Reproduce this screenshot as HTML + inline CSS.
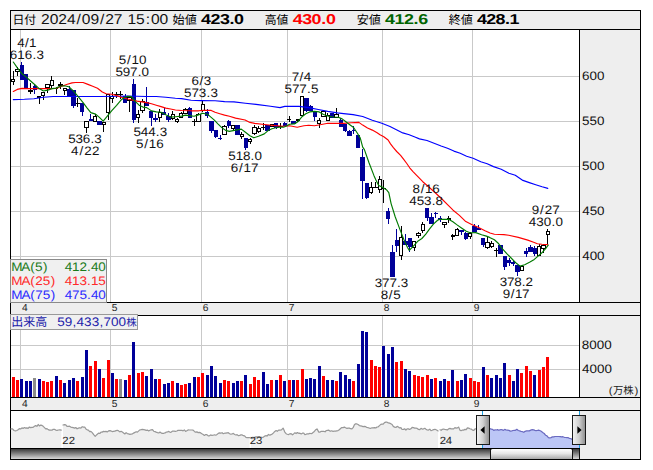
<!DOCTYPE html><html><head><meta charset="utf-8"><title>chart</title><style>html,body{margin:0;padding:0;background:#fff;}body{width:653px;height:470px;overflow:hidden;font-family:"Liberation Sans",sans-serif;}svg{display:block;}svg text{font-family:"Liberation Sans",sans-serif;}</style></head><body><svg width="653" height="470" viewBox="0 0 653 470"  text-rendering="geometricPrecision"><rect x="0" y="0" width="653" height="470" fill="#fff" />
<rect x="10" y="10" width="631" height="450" fill="#000" />
<rect x="11" y="11" width="629" height="18" fill="#eeeeee" />
<rect x="11" y="30" width="568" height="272" fill="#fff" />
<rect x="580" y="30" width="60" height="272" fill="#eeeeee" />
<rect x="11" y="303" width="629" height="12" fill="#eeeeee" />
<rect x="11" y="316" width="568" height="81" fill="#fff" />
<rect x="580" y="316" width="60" height="81" fill="#eeeeee" />
<rect x="11" y="398" width="629" height="12" fill="#eeeeee" />
<rect x="11" y="411" width="629" height="38" fill="#eeeeee" />
<defs><linearGradient id="trk" x1="0" y1="0" x2="0" y2="1"><stop offset="0" stop-color="#3a3a3a"/><stop offset="0.5" stop-color="#888"/><stop offset="1" stop-color="#d8d8d8"/></linearGradient><linearGradient id="thumb" x1="0" y1="0" x2="0" y2="1"><stop offset="0" stop-color="#ffffff"/><stop offset="0.45" stop-color="#e6e6e6"/><stop offset="1" stop-color="#a8a8a8"/></linearGradient><linearGradient id="hnd" x1="0" y1="0" x2="1" y2="0"><stop offset="0" stop-color="#f4f4f4"/><stop offset="0.5" stop-color="#d0d0d0"/><stop offset="1" stop-color="#8c8c8c"/></linearGradient></defs>
<rect x="11" y="449" width="629" height="10" fill="#eeeeee" />
<rect x="11" y="449" width="569" height="10" fill="url(#trk)" />
<rect x="20" y="30" width="1" height="272" fill="#c9c9c9" />
<rect x="20" y="316" width="1" height="81" fill="#c9c9c9" />
<rect x="110" y="30" width="1" height="272" fill="#c9c9c9" />
<rect x="110" y="316" width="1" height="81" fill="#c9c9c9" />
<rect x="201" y="30" width="1" height="272" fill="#c9c9c9" />
<rect x="201" y="316" width="1" height="81" fill="#c9c9c9" />
<rect x="287" y="30" width="1" height="272" fill="#c9c9c9" />
<rect x="287" y="316" width="1" height="81" fill="#c9c9c9" />
<rect x="382" y="30" width="1" height="272" fill="#c9c9c9" />
<rect x="382" y="316" width="1" height="81" fill="#c9c9c9" />
<rect x="472" y="30" width="1" height="272" fill="#c9c9c9" />
<rect x="472" y="316" width="1" height="81" fill="#c9c9c9" />
<rect x="11" y="76" width="568" height="1" fill="#c9c9c9" />
<rect x="11" y="121" width="568" height="1" fill="#c9c9c9" />
<rect x="11" y="166" width="568" height="1" fill="#c9c9c9" />
<rect x="11" y="211" width="568" height="1" fill="#c9c9c9" />
<rect x="11" y="256" width="568" height="1" fill="#c9c9c9" />
<rect x="11" y="345" width="568" height="1" fill="#c9c9c9" />
<rect x="11" y="369" width="568" height="1" fill="#c9c9c9" />
<g shape-rendering="crispEdges">
<rect x="13" y="71" width="1" height="14" fill="#000" />
<rect x="11" y="79" width="4" height="3" fill="#000" />
<rect x="12" y="80" width="2" height="1" fill="#fff" />
<rect x="17" y="67" width="1" height="9" fill="#000" />
<rect x="15" y="69" width="5" height="3" fill="#000" />
<rect x="16" y="70" width="3" height="1" fill="#fff" />
<rect x="21" y="62" width="1" height="18" fill="#000099" />
<rect x="20" y="65" width="4" height="15" fill="#000099" />
<rect x="26" y="74" width="1" height="14" fill="#000099" />
<rect x="24" y="74" width="4" height="14" fill="#000099" />
<rect x="30" y="83" width="1" height="11" fill="#000" />
<rect x="28" y="90" width="5" height="2" fill="#000" />
<rect x="34" y="85" width="1" height="9" fill="#000099" />
<rect x="33" y="86" width="4" height="4" fill="#000099" />
<rect x="39" y="96" width="1" height="8" fill="#000" />
<rect x="37" y="96" width="4" height="2" fill="#000" />
<rect x="43" y="92" width="1" height="8" fill="#000" />
<rect x="41" y="92" width="4" height="4" fill="#000" />
<rect x="42" y="93" width="2" height="2" fill="#fff" />
<rect x="47" y="84" width="1" height="9" fill="#000" />
<rect x="45" y="84" width="5" height="4" fill="#000" />
<rect x="46" y="85" width="3" height="2" fill="#fff" />
<rect x="51" y="76" width="1" height="12" fill="#000" />
<rect x="50" y="80" width="4" height="6" fill="#000" />
<rect x="51" y="81" width="2" height="4" fill="#fff" />
<rect x="56" y="87" width="1" height="7" fill="#000" />
<rect x="54" y="88" width="4" height="1" fill="#000" />
<rect x="60" y="82" width="1" height="7" fill="#000" />
<rect x="58" y="84" width="5" height="2" fill="#000" />
<rect x="64" y="88" width="1" height="7" fill="#000" />
<rect x="63" y="88" width="4" height="3" fill="#000" />
<rect x="64" y="89" width="2" height="1" fill="#fff" />
<rect x="69" y="86" width="1" height="10" fill="#000099" />
<rect x="67" y="89" width="4" height="7" fill="#000099" />
<rect x="73" y="90" width="1" height="18" fill="#000099" />
<rect x="71" y="90" width="5" height="16" fill="#000099" />
<rect x="77" y="98" width="1" height="9" fill="#000" />
<rect x="76" y="103" width="4" height="1" fill="#000" />
<rect x="82" y="103" width="1" height="13" fill="#000099" />
<rect x="80" y="103" width="4" height="9" fill="#000099" />
<rect x="86" y="121" width="1" height="12" fill="#000" />
<rect x="84" y="121" width="5" height="7" fill="#000" />
<rect x="85" y="122" width="3" height="5" fill="#fff" />
<rect x="90" y="114" width="1" height="7" fill="#000099" />
<rect x="89" y="119" width="4" height="2" fill="#000099" />
<rect x="95" y="114" width="1" height="8" fill="#000" />
<rect x="93" y="116" width="4" height="6" fill="#000" />
<rect x="94" y="117" width="2" height="4" fill="#fff" />
<rect x="99" y="121" width="1" height="4" fill="#000099" />
<rect x="97" y="121" width="5" height="4" fill="#000099" />
<rect x="103" y="122" width="1" height="10" fill="#000" />
<rect x="102" y="122" width="4" height="3" fill="#000" />
<rect x="103" y="123" width="2" height="1" fill="#fff" />
<rect x="108" y="94" width="1" height="26" fill="#000" />
<rect x="106" y="94" width="4" height="19" fill="#000" />
<rect x="107" y="95" width="2" height="17" fill="#fff" />
<rect x="112" y="92" width="1" height="11" fill="#000" />
<rect x="110" y="96" width="4" height="3" fill="#000" />
<rect x="111" y="97" width="2" height="1" fill="#fff" />
<rect x="116" y="92" width="1" height="6" fill="#000" />
<rect x="114" y="94" width="5" height="1" fill="#000" />
<rect x="120" y="91" width="1" height="8" fill="#000" />
<rect x="119" y="94" width="4" height="1" fill="#000" />
<rect x="125" y="94" width="1" height="9" fill="#000099" />
<rect x="123" y="96" width="4" height="7" fill="#000099" />
<rect x="129" y="97" width="1" height="15" fill="#000" />
<rect x="127" y="97" width="5" height="4" fill="#000" />
<rect x="128" y="98" width="3" height="2" fill="#fff" />
<rect x="133" y="79" width="1" height="44" fill="#000099" />
<rect x="132" y="84" width="4" height="36" fill="#000099" />
<rect x="138" y="110" width="1" height="13" fill="#000" />
<rect x="136" y="114" width="4" height="4" fill="#000" />
<rect x="137" y="115" width="2" height="2" fill="#fff" />
<rect x="142" y="99" width="1" height="14" fill="#000" />
<rect x="140" y="101" width="5" height="10" fill="#000" />
<rect x="141" y="102" width="3" height="8" fill="#fff" />
<rect x="146" y="87" width="1" height="19" fill="#000099" />
<rect x="145" y="102" width="4" height="4" fill="#000099" />
<rect x="151" y="111" width="1" height="15" fill="#000099" />
<rect x="149" y="111" width="4" height="7" fill="#000099" />
<rect x="155" y="114" width="1" height="8" fill="#000099" />
<rect x="153" y="118" width="5" height="2" fill="#000099" />
<rect x="159" y="109" width="1" height="13" fill="#000" />
<rect x="158" y="112" width="4" height="6" fill="#000" />
<rect x="159" y="113" width="2" height="4" fill="#fff" />
<rect x="164" y="108" width="1" height="7" fill="#000099" />
<rect x="162" y="112" width="4" height="3" fill="#000099" />
<rect x="168" y="113" width="1" height="9" fill="#000099" />
<rect x="166" y="116" width="5" height="4" fill="#000099" />
<rect x="172" y="111" width="1" height="9" fill="#000" />
<rect x="171" y="114" width="4" height="5" fill="#000" />
<rect x="172" y="115" width="2" height="3" fill="#fff" />
<rect x="177" y="118" width="1" height="5" fill="#000" />
<rect x="175" y="119" width="4" height="3" fill="#000" />
<rect x="176" y="120" width="2" height="1" fill="#fff" />
<rect x="181" y="112" width="1" height="5" fill="#000" />
<rect x="179" y="113" width="4" height="5" fill="#000" />
<rect x="180" y="114" width="2" height="3" fill="#fff" />
<rect x="185" y="108" width="1" height="6" fill="#000" />
<rect x="183" y="109" width="5" height="5" fill="#000" />
<rect x="184" y="110" width="3" height="3" fill="#fff" />
<rect x="189" y="107" width="1" height="11" fill="#000099" />
<rect x="188" y="108" width="4" height="10" fill="#000099" />
<rect x="194" y="119" width="1" height="7" fill="#000" />
<rect x="192" y="121" width="4" height="1" fill="#000" />
<rect x="198" y="113" width="1" height="8" fill="#000" />
<rect x="196" y="114" width="5" height="8" fill="#000" />
<rect x="197" y="115" width="3" height="6" fill="#fff" />
<rect x="202" y="101" width="1" height="11" fill="#000" />
<rect x="201" y="104" width="4" height="7" fill="#000" />
<rect x="202" y="105" width="2" height="5" fill="#fff" />
<rect x="207" y="109" width="1" height="9" fill="#000099" />
<rect x="205" y="112" width="4" height="4" fill="#000099" />
<rect x="211" y="121" width="1" height="12" fill="#000099" />
<rect x="209" y="121" width="5" height="10" fill="#000099" />
<rect x="215" y="130" width="1" height="8" fill="#000099" />
<rect x="214" y="130" width="4" height="7" fill="#000099" />
<rect x="220" y="135" width="1" height="5" fill="#000099" />
<rect x="218" y="138" width="4" height="1" fill="#000099" />
<rect x="224" y="125" width="1" height="10" fill="#000" />
<rect x="222" y="126" width="5" height="9" fill="#000" />
<rect x="223" y="127" width="3" height="7" fill="#fff" />
<rect x="228" y="120" width="1" height="8" fill="#000099" />
<rect x="227" y="121" width="4" height="5" fill="#000099" />
<rect x="233" y="125" width="1" height="5" fill="#000" />
<rect x="231" y="125" width="4" height="4" fill="#000" />
<rect x="232" y="126" width="2" height="2" fill="#fff" />
<rect x="237" y="125" width="1" height="10" fill="#000099" />
<rect x="235" y="125" width="5" height="10" fill="#000099" />
<rect x="241" y="132" width="1" height="7" fill="#000" />
<rect x="240" y="134" width="4" height="3" fill="#000" />
<rect x="241" y="135" width="2" height="1" fill="#fff" />
<rect x="245" y="138" width="1" height="12" fill="#000099" />
<rect x="244" y="138" width="4" height="10" fill="#000099" />
<rect x="250" y="138" width="1" height="6" fill="#000" />
<rect x="248" y="139" width="4" height="3" fill="#000" />
<rect x="249" y="140" width="2" height="1" fill="#fff" />
<rect x="254" y="125" width="1" height="10" fill="#000" />
<rect x="252" y="127" width="5" height="7" fill="#000" />
<rect x="253" y="128" width="3" height="5" fill="#fff" />
<rect x="258" y="126" width="1" height="7" fill="#000" />
<rect x="257" y="128" width="4" height="4" fill="#000" />
<rect x="258" y="129" width="2" height="2" fill="#fff" />
<rect x="263" y="123" width="1" height="7" fill="#000" />
<rect x="261" y="127" width="4" height="1" fill="#000" />
<rect x="267" y="125" width="1" height="6" fill="#000099" />
<rect x="265" y="125" width="5" height="6" fill="#000099" />
<rect x="271" y="124" width="1" height="2" fill="#000" />
<rect x="270" y="124" width="4" height="3" fill="#000" />
<rect x="271" y="125" width="2" height="1" fill="#fff" />
<rect x="276" y="123" width="1" height="6" fill="#000099" />
<rect x="274" y="123" width="4" height="5" fill="#000099" />
<rect x="280" y="123" width="1" height="6" fill="#000" />
<rect x="278" y="126" width="5" height="1" fill="#000" />
<rect x="284" y="122" width="1" height="4" fill="#000099" />
<rect x="283" y="123" width="4" height="3" fill="#000099" />
<rect x="289" y="116" width="1" height="6" fill="#000" />
<rect x="287" y="119" width="4" height="1" fill="#000" />
<rect x="293" y="121" width="1" height="3" fill="#000099" />
<rect x="291" y="121" width="5" height="3" fill="#000099" />
<rect x="297" y="119" width="1" height="3" fill="#000" />
<rect x="296" y="119" width="4" height="2" fill="#000" />
<rect x="302" y="96" width="1" height="20" fill="#000" />
<rect x="300" y="96" width="4" height="20" fill="#000" />
<rect x="301" y="97" width="2" height="18" fill="#fff" />
<rect x="306" y="98" width="1" height="14" fill="#000099" />
<rect x="304" y="98" width="5" height="13" fill="#000099" />
<rect x="310" y="105" width="1" height="6" fill="#000099" />
<rect x="309" y="106" width="4" height="5" fill="#000099" />
<rect x="314" y="112" width="1" height="9" fill="#000099" />
<rect x="313" y="112" width="4" height="5" fill="#000099" />
<rect x="319" y="118" width="1" height="10" fill="#000" />
<rect x="317" y="120" width="4" height="4" fill="#000" />
<rect x="318" y="121" width="2" height="2" fill="#fff" />
<rect x="323" y="111" width="1" height="6" fill="#000" />
<rect x="321" y="111" width="5" height="6" fill="#000" />
<rect x="322" y="112" width="3" height="4" fill="#fff" />
<rect x="327" y="113" width="1" height="8" fill="#000" />
<rect x="326" y="115" width="4" height="6" fill="#000" />
<rect x="327" y="116" width="2" height="4" fill="#fff" />
<rect x="332" y="113" width="1" height="5" fill="#000099" />
<rect x="330" y="113" width="4" height="5" fill="#000099" />
<rect x="336" y="108" width="1" height="10" fill="#000" />
<rect x="334" y="114" width="5" height="4" fill="#000" />
<rect x="335" y="115" width="3" height="2" fill="#fff" />
<rect x="340" y="118" width="1" height="9" fill="#000099" />
<rect x="339" y="120" width="4" height="7" fill="#000099" />
<rect x="345" y="124" width="1" height="8" fill="#000099" />
<rect x="343" y="124" width="4" height="7" fill="#000099" />
<rect x="349" y="130" width="1" height="6" fill="#000099" />
<rect x="347" y="131" width="5" height="5" fill="#000099" />
<rect x="353" y="126" width="1" height="8" fill="#000099" />
<rect x="352" y="130" width="4" height="1" fill="#000099" />
<rect x="358" y="135" width="1" height="13" fill="#000099" />
<rect x="356" y="135" width="4" height="13" fill="#000099" />
<rect x="362" y="149" width="1" height="50" fill="#000099" />
<rect x="360" y="157" width="5" height="24" fill="#000099" />
<rect x="366" y="183" width="1" height="16" fill="#000099" />
<rect x="365" y="183" width="4" height="15" fill="#000099" />
<rect x="371" y="182" width="1" height="12" fill="#000" />
<rect x="369" y="187" width="4" height="6" fill="#000" />
<rect x="370" y="188" width="2" height="4" fill="#fff" />
<rect x="375" y="182" width="1" height="6" fill="#000" />
<rect x="373" y="187" width="5" height="1" fill="#000" />
<rect x="379" y="176" width="1" height="17" fill="#000" />
<rect x="378" y="179" width="4" height="11" fill="#000" />
<rect x="379" y="180" width="2" height="9" fill="#fff" />
<rect x="383" y="180" width="1" height="23" fill="#000" />
<rect x="382" y="188" width="4" height="1" fill="#000" />
<rect x="388" y="208" width="1" height="16" fill="#000099" />
<rect x="386" y="211" width="4" height="8" fill="#000099" />
<rect x="392" y="245" width="1" height="32" fill="#000099" />
<rect x="390" y="252" width="5" height="25" fill="#000099" />
<rect x="396" y="229" width="1" height="23" fill="#000099" />
<rect x="395" y="240" width="4" height="6" fill="#000099" />
<rect x="401" y="226" width="1" height="34" fill="#000" />
<rect x="399" y="237" width="4" height="19" fill="#000" />
<rect x="400" y="238" width="2" height="17" fill="#fff" />
<rect x="405" y="234" width="1" height="11" fill="#000099" />
<rect x="403" y="241" width="5" height="4" fill="#000099" />
<rect x="409" y="238" width="1" height="14" fill="#000099" />
<rect x="408" y="238" width="4" height="9" fill="#000099" />
<rect x="414" y="241" width="1" height="10" fill="#000" />
<rect x="412" y="241" width="4" height="7" fill="#000" />
<rect x="413" y="242" width="2" height="5" fill="#fff" />
<rect x="418" y="232" width="1" height="6" fill="#000" />
<rect x="416" y="233" width="5" height="3" fill="#000" />
<rect x="417" y="234" width="3" height="1" fill="#fff" />
<rect x="422" y="222" width="1" height="11" fill="#000" />
<rect x="421" y="224" width="4" height="7" fill="#000" />
<rect x="422" y="225" width="2" height="5" fill="#fff" />
<rect x="427" y="208" width="1" height="13" fill="#000099" />
<rect x="425" y="208" width="4" height="10" fill="#000099" />
<rect x="431" y="213" width="1" height="11" fill="#000099" />
<rect x="429" y="217" width="5" height="7" fill="#000099" />
<rect x="435" y="212" width="1" height="6" fill="#000099" />
<rect x="434" y="213" width="4" height="1" fill="#000099" />
<rect x="440" y="216" width="1" height="6" fill="#000099" />
<rect x="438" y="218" width="4" height="2" fill="#000099" />
<rect x="444" y="222" width="1" height="6" fill="#000" />
<rect x="442" y="222" width="5" height="3" fill="#000" />
<rect x="443" y="223" width="3" height="1" fill="#fff" />
<rect x="448" y="216" width="1" height="7" fill="#000" />
<rect x="447" y="218" width="4" height="2" fill="#000" />
<rect x="452" y="234" width="1" height="6" fill="#000" />
<rect x="451" y="235" width="4" height="2" fill="#000" />
<rect x="457" y="228" width="1" height="8" fill="#000" />
<rect x="455" y="229" width="4" height="7" fill="#000" />
<rect x="456" y="230" width="2" height="5" fill="#fff" />
<rect x="461" y="230" width="1" height="5" fill="#000099" />
<rect x="459" y="230" width="5" height="2" fill="#000099" />
<rect x="465" y="232" width="1" height="8" fill="#000099" />
<rect x="464" y="233" width="4" height="6" fill="#000099" />
<rect x="470" y="232" width="1" height="7" fill="#000" />
<rect x="468" y="233" width="4" height="4" fill="#000" />
<rect x="469" y="234" width="2" height="2" fill="#fff" />
<rect x="474" y="224" width="1" height="8" fill="#000099" />
<rect x="472" y="226" width="5" height="6" fill="#000099" />
<rect x="478" y="225" width="1" height="5" fill="#000099" />
<rect x="477" y="228" width="4" height="2" fill="#000099" />
<rect x="483" y="238" width="1" height="9" fill="#000099" />
<rect x="481" y="238" width="4" height="7" fill="#000099" />
<rect x="487" y="237" width="1" height="12" fill="#000" />
<rect x="485" y="242" width="5" height="6" fill="#000" />
<rect x="486" y="243" width="3" height="4" fill="#fff" />
<rect x="491" y="241" width="1" height="7" fill="#000" />
<rect x="490" y="243" width="4" height="4" fill="#000" />
<rect x="491" y="244" width="2" height="2" fill="#fff" />
<rect x="496" y="248" width="1" height="9" fill="#000" />
<rect x="494" y="250" width="4" height="1" fill="#000" />
<rect x="500" y="245" width="1" height="9" fill="#000099" />
<rect x="498" y="245" width="5" height="9" fill="#000099" />
<rect x="504" y="256" width="1" height="14" fill="#000099" />
<rect x="503" y="256" width="4" height="11" fill="#000099" />
<rect x="509" y="258" width="1" height="8" fill="#000099" />
<rect x="507" y="260" width="4" height="3" fill="#000099" />
<rect x="513" y="261" width="1" height="5" fill="#000099" />
<rect x="511" y="262" width="4" height="2" fill="#000099" />
<rect x="517" y="265" width="1" height="11" fill="#000099" />
<rect x="515" y="265" width="5" height="7" fill="#000099" />
<rect x="521" y="266" width="1" height="4" fill="#000" />
<rect x="520" y="266" width="4" height="5" fill="#000" />
<rect x="521" y="267" width="2" height="3" fill="#fff" />
<rect x="526" y="248" width="1" height="9" fill="#000099" />
<rect x="524" y="251" width="4" height="3" fill="#000099" />
<rect x="530" y="245" width="1" height="7" fill="#000099" />
<rect x="528" y="247" width="5" height="5" fill="#000099" />
<rect x="534" y="246" width="1" height="10" fill="#000099" />
<rect x="533" y="248" width="4" height="6" fill="#000099" />
<rect x="539" y="244" width="1" height="11" fill="#000" />
<rect x="537" y="246" width="4" height="10" fill="#000" />
<rect x="538" y="247" width="2" height="8" fill="#fff" />
<rect x="543" y="244" width="1" height="9" fill="#000" />
<rect x="541" y="245" width="5" height="4" fill="#000" />
<rect x="542" y="246" width="3" height="2" fill="#fff" />
<rect x="547" y="229" width="1" height="16" fill="#000" />
<rect x="546" y="231" width="4" height="4" fill="#000" />
<rect x="547" y="232" width="2" height="2" fill="#fff" />
</g>
<polyline fill="none" stroke="#0000ff" stroke-width="1.15" stroke-linejoin="round" stroke-linecap="round" points="13.3,99.6 24.4,99.3 33.9,98.7 43.5,97.2 53.1,96.5 62.6,96.5 72.0,96.5 100.0,96.5 118.0,96.3 127.6,96.0 137.1,96.3 146.7,96.5 156.3,96.5 165.8,97.2 175.4,98.2 181.6,98.6 191.1,100.3 200.7,100.6 215.1,100.8 224.6,101.6 234.0,101.9 245.4,103.2 258.0,104.6 270.5,106.2 280.0,107.6 284.8,106.4 291.5,106.2 299.1,106.4 308.7,107.6 318.3,109.5 327.8,111.4 337.4,112.9 343.6,113.6 353.1,114.6 362.7,116.5 372.3,120.3 381.8,123.2 390.0,126.5 396.4,129.7 402.8,132.9 409.2,134.8 415.5,137.3 419.4,138.9 427.0,140.5 434.7,143.5 441.1,146.0 447.5,148.2 453.9,151.1 460.2,153.3 466.6,156.2 473.1,158.3 480.8,161.7 487.2,163.8 493.5,166.6 501.2,169.2 508.9,173.2 515.3,175.3 522.9,180.4 529.3,182.6 535.7,184.7 542.1,186.8 547.8,188.4" />
<polyline fill="none" stroke="#ff0000" stroke-width="1.15" stroke-linejoin="round" stroke-linecap="round" points="13.3,91.5 17.2,89.4 22.0,88.4 29.1,88.6 38.7,88.6 48.3,88.6 55.9,88.4 61.7,86.2 67.4,84.3 72.0,82.9 75.5,82.5 83.1,82.5 87.9,84.4 92.7,86.3 97.5,88.2 102.3,92.0 106.1,93.7 111.8,94.2 117.6,95.9 121.4,97.3 127.6,99.0 137.1,101.1 146.7,102.6 151.5,103.8 156.3,105.2 161.1,106.6 165.8,108.1 170.6,109.0 175.4,110.0 181.6,110.5 191.1,110.8 198.8,110.8 203.6,110.4 211.2,110.4 215.1,112.3 219.8,113.7 224.6,115.1 229.4,116.3 235.6,118.1 245.1,120.0 249.9,122.4 254.7,123.4 264.3,124.5 273.8,125.5 283.4,126.3 289.6,125.8 297.2,127.2 303.9,125.8 308.7,125.3 314.4,125.8 320.2,124.8 327.8,123.2 337.4,123.4 343.6,123.4 351.2,122.7 358.9,122.4 362.7,125.1 367.5,128.0 372.3,130.1 377.1,132.8 380.0,134.8 383.8,136.7 388.1,140.0 390.5,143.9 393.4,147.7 396.7,151.5 400.6,155.4 403.9,159.7 406.8,163.5 409.7,167.8 413.0,171.6 416.4,175.2 422.8,181.7 429.1,187.3 435.5,193.0 441.9,199.0 448.3,205.4 453.1,210.2 459.4,215.4 465.8,221.6 472.2,224.8 478.6,227.5 485.0,230.7 490.0,233.0 494.4,234.3 503.9,234.6 508.7,235.3 518.3,237.4 527.8,240.1 533.6,242.2 537.4,243.7 541.9,244.3 547.7,244.6" />
<polyline fill="none" stroke="#007a00" stroke-width="1.15" stroke-linejoin="round" stroke-linecap="round" points="13.3,62.0 17.2,67.6 22.0,73.8 26.3,77.1 30.6,81.0 34.9,84.8 39.2,88.6 43.5,91.0 47.8,90.1 52.1,88.6 55.9,88.1 60.2,86.2 64.5,85.8 68.8,86.8 73.6,91.1 78.4,96.8 83.1,102.6 87.0,107.8 90.8,112.6 95.6,114.1 99.4,117.4 103.2,121.2 107.1,116.4 111.8,110.7 116.6,105.4 121.4,99.7 124.5,97.2 127.6,96.3 131.4,96.6 135.2,101.4 139.1,105.2 142.9,107.1 146.7,107.6 151.5,110.9 156.3,111.9 161.1,112.2 165.8,114.8 170.6,117.1 175.4,116.7 181.6,116.1 185.4,115.1 189.2,115.6 194.0,116.3 197.8,115.1 202.6,113.2 207.4,114.2 210.3,116.6 214.1,119.9 217.9,123.8 221.8,127.6 225.6,130.4 229.4,131.4 235.6,130.1 241.3,129.1 245.1,132.0 249.9,135.8 253.8,137.8 258.5,136.3 264.3,133.9 268.1,130.6 271.9,128.7 275.8,127.7 279.6,127.2 283.4,127.2 286.0,126.2 289.6,124.2 294.4,123.9 298.2,121.5 302.0,116.7 305.8,113.8 309.7,111.9 314.4,111.4 319.2,111.9 323.1,114.3 325.5,115.2 328.7,116.2 333.5,117.0 338.3,117.3 342.1,118.9 345.9,121.8 349.8,124.7 353.6,127.5 357.4,133.3 360.3,138.1 362.7,147.1 364.4,149.6 369.1,163.0 373.9,175.4 375.8,179.7 378.7,185.4 382.5,187.3 386.4,189.7 388.8,192.6 391.1,203.6 395.1,216.5 399.9,229.4 403.8,239.4 407.5,247.5 409.3,250.4 414.3,245.2 418.1,240.9 421.9,238.5 425.8,234.2 429.6,228.9 433.4,224.1 437.6,220.3 440.4,219.2 449.0,219.4 452.9,221.7 456.7,224.6 461.5,228.0 466.3,231.3 470.1,232.8 475.8,232.6 481.6,234.7 486.4,236.1 489.6,237.4 494.4,239.8 498.2,243.2 502.0,248.4 506.8,253.7 511.6,258.5 516.4,263.3 520.0,266.1 524.7,264.7 529.5,262.3 534.3,259.4 538.1,256.1 541.9,252.8 545.8,248.4 548.2,245.1" />
<g shape-rendering="crispEdges">
<rect x="12" y="377" width="3" height="20" fill="#ff0000" />
<rect x="16" y="380" width="3" height="17" fill="#ff0000" />
<rect x="20" y="379" width="3" height="18" fill="#000099" />
<rect x="25" y="381" width="3" height="16" fill="#000099" />
<rect x="29" y="381" width="3" height="16" fill="#000099" />
<rect x="33" y="378" width="3" height="19" fill="#8c8c8c" />
<rect x="38" y="379" width="3" height="18" fill="#000099" />
<rect x="42" y="381" width="3" height="16" fill="#ff0000" />
<rect x="46" y="382" width="3" height="15" fill="#ff0000" />
<rect x="50" y="381" width="3" height="16" fill="#ff0000" />
<rect x="55" y="376" width="3" height="21" fill="#000099" />
<rect x="59" y="380" width="3" height="17" fill="#ff0000" />
<rect x="63" y="383" width="3" height="14" fill="#000099" />
<rect x="68" y="380" width="3" height="17" fill="#000099" />
<rect x="72" y="378" width="3" height="19" fill="#000099" />
<rect x="76" y="381" width="3" height="16" fill="#ff0000" />
<rect x="81" y="377" width="3" height="20" fill="#000099" />
<rect x="85" y="350" width="3" height="47" fill="#000099" />
<rect x="89" y="366" width="3" height="31" fill="#ff0000" />
<rect x="94" y="361" width="3" height="36" fill="#ff0000" />
<rect x="98" y="369" width="3" height="28" fill="#000099" />
<rect x="102" y="378" width="3" height="19" fill="#ff0000" />
<rect x="107" y="360" width="3" height="37" fill="#ff0000" />
<rect x="111" y="373" width="3" height="24" fill="#000099" />
<rect x="115" y="379" width="3" height="18" fill="#ff0000" />
<rect x="119" y="379" width="3" height="18" fill="#8c8c8c" />
<rect x="124" y="380" width="3" height="17" fill="#000099" />
<rect x="128" y="375" width="3" height="22" fill="#ff0000" />
<rect x="132" y="342" width="3" height="55" fill="#000099" />
<rect x="137" y="373" width="3" height="24" fill="#ff0000" />
<rect x="141" y="372" width="3" height="25" fill="#ff0000" />
<rect x="145" y="376" width="3" height="21" fill="#000099" />
<rect x="150" y="369" width="3" height="28" fill="#000099" />
<rect x="154" y="379" width="3" height="18" fill="#000099" />
<rect x="158" y="379" width="3" height="18" fill="#ff0000" />
<rect x="163" y="384" width="3" height="13" fill="#000099" />
<rect x="167" y="383" width="3" height="14" fill="#000099" />
<rect x="171" y="381" width="3" height="16" fill="#ff0000" />
<rect x="176" y="383" width="3" height="14" fill="#000099" />
<rect x="180" y="385" width="3" height="12" fill="#ff0000" />
<rect x="184" y="384" width="3" height="13" fill="#ff0000" />
<rect x="188" y="383" width="3" height="14" fill="#000099" />
<rect x="193" y="377" width="3" height="20" fill="#000099" />
<rect x="197" y="377" width="3" height="20" fill="#ff0000" />
<rect x="201" y="373" width="3" height="24" fill="#ff0000" />
<rect x="206" y="375" width="3" height="22" fill="#000099" />
<rect x="210" y="366" width="3" height="31" fill="#000099" />
<rect x="214" y="376" width="3" height="21" fill="#000099" />
<rect x="219" y="383" width="3" height="14" fill="#000099" />
<rect x="223" y="380" width="3" height="17" fill="#ff0000" />
<rect x="227" y="381" width="3" height="16" fill="#ff0000" />
<rect x="232" y="383" width="3" height="14" fill="#000099" />
<rect x="236" y="381" width="3" height="16" fill="#000099" />
<rect x="240" y="381" width="3" height="16" fill="#ff0000" />
<rect x="244" y="375" width="3" height="22" fill="#000099" />
<rect x="249" y="384" width="3" height="13" fill="#ff0000" />
<rect x="253" y="377" width="3" height="20" fill="#ff0000" />
<rect x="257" y="380" width="3" height="17" fill="#ff0000" />
<rect x="262" y="372" width="3" height="25" fill="#000099" />
<rect x="266" y="384" width="3" height="13" fill="#000099" />
<rect x="270" y="380" width="3" height="17" fill="#ff0000" />
<rect x="275" y="380" width="3" height="17" fill="#000099" />
<rect x="279" y="375" width="3" height="22" fill="#ff0000" />
<rect x="283" y="381" width="3" height="16" fill="#000099" />
<rect x="288" y="380" width="3" height="17" fill="#ff0000" />
<rect x="292" y="380" width="3" height="17" fill="#000099" />
<rect x="296" y="380" width="3" height="17" fill="#ff0000" />
<rect x="301" y="369" width="3" height="28" fill="#ff0000" />
<rect x="305" y="379" width="3" height="18" fill="#000099" />
<rect x="309" y="378" width="3" height="19" fill="#000099" />
<rect x="313" y="379" width="3" height="18" fill="#000099" />
<rect x="318" y="366" width="3" height="31" fill="#000099" />
<rect x="322" y="376" width="3" height="21" fill="#ff0000" />
<rect x="326" y="380" width="3" height="17" fill="#000099" />
<rect x="331" y="380" width="3" height="17" fill="#000099" />
<rect x="335" y="381" width="3" height="16" fill="#ff0000" />
<rect x="339" y="372" width="3" height="25" fill="#000099" />
<rect x="344" y="375" width="3" height="22" fill="#000099" />
<rect x="348" y="379" width="3" height="18" fill="#000099" />
<rect x="352" y="381" width="3" height="16" fill="#ff0000" />
<rect x="357" y="364" width="3" height="33" fill="#000099" />
<rect x="361" y="331" width="3" height="66" fill="#000099" />
<rect x="365" y="332" width="3" height="65" fill="#000099" />
<rect x="370" y="360" width="3" height="37" fill="#ff0000" />
<rect x="374" y="366" width="3" height="31" fill="#ff0000" />
<rect x="378" y="367" width="3" height="30" fill="#ff0000" />
<rect x="382" y="346" width="3" height="51" fill="#000099" />
<rect x="387" y="354" width="3" height="43" fill="#000099" />
<rect x="391" y="347" width="3" height="50" fill="#000099" />
<rect x="395" y="362" width="3" height="35" fill="#ff0000" />
<rect x="400" y="361" width="3" height="36" fill="#ff0000" />
<rect x="404" y="369" width="3" height="28" fill="#000099" />
<rect x="408" y="371" width="3" height="26" fill="#000099" />
<rect x="413" y="375" width="3" height="22" fill="#ff0000" />
<rect x="417" y="376" width="3" height="21" fill="#ff0000" />
<rect x="421" y="377" width="3" height="20" fill="#ff0000" />
<rect x="426" y="375" width="3" height="22" fill="#ff0000" />
<rect x="430" y="379" width="3" height="18" fill="#000099" />
<rect x="434" y="378" width="3" height="19" fill="#ff0000" />
<rect x="439" y="381" width="3" height="16" fill="#000099" />
<rect x="443" y="379" width="3" height="18" fill="#000099" />
<rect x="447" y="381" width="3" height="16" fill="#ff0000" />
<rect x="451" y="370" width="3" height="27" fill="#000099" />
<rect x="456" y="381" width="3" height="16" fill="#ff0000" />
<rect x="460" y="380" width="3" height="17" fill="#000099" />
<rect x="464" y="374" width="3" height="23" fill="#000099" />
<rect x="469" y="378" width="3" height="19" fill="#ff0000" />
<rect x="473" y="381" width="3" height="16" fill="#ff0000" />
<rect x="477" y="382" width="3" height="15" fill="#ff0000" />
<rect x="482" y="367" width="3" height="30" fill="#000099" />
<rect x="486" y="375" width="3" height="22" fill="#ff0000" />
<rect x="490" y="378" width="3" height="19" fill="#000099" />
<rect x="495" y="375" width="3" height="22" fill="#000099" />
<rect x="499" y="378" width="3" height="19" fill="#000099" />
<rect x="503" y="363" width="3" height="34" fill="#000099" />
<rect x="508" y="375" width="3" height="22" fill="#ff0000" />
<rect x="512" y="381" width="3" height="16" fill="#000099" />
<rect x="516" y="369" width="3" height="28" fill="#000099" />
<rect x="520" y="373" width="3" height="24" fill="#ff0000" />
<rect x="525" y="366" width="3" height="31" fill="#ff0000" />
<rect x="529" y="371" width="3" height="26" fill="#ff0000" />
<rect x="533" y="375" width="3" height="22" fill="#000099" />
<rect x="538" y="370" width="3" height="27" fill="#ff0000" />
<rect x="542" y="367" width="3" height="30" fill="#ff0000" />
<rect x="546" y="357" width="3" height="40" fill="#ff0000" />
</g>
<rect x="10" y="29" width="631" height="1" fill="#000" />
<rect x="10" y="302" width="631" height="1" fill="#000" />
<rect x="10" y="315" width="631" height="1" fill="#000" />
<rect x="10" y="397" width="631" height="1" fill="#000" />
<rect x="10" y="410" width="631" height="1" fill="#000" />
<rect x="10" y="448" width="570" height="1" fill="#000" />
<rect x="579" y="30" width="1" height="273" fill="#000" />
<rect x="579" y="315" width="1" height="83" fill="#000" />
<rect x="10" y="259" width="97" height="44" fill="#8a8a8a" />
<rect x="11" y="260" width="95" height="42" fill="#f0f0f0" />
<text transform="scale(1.09,1)" x="10.36 19.58 27.75 32.21 39.44" y="271.2" font-size="12.4" fill="#1a7a1a">MA(5)</text>
<text transform="scale(1.09,1)" x="59.35 66.10 72.86 79.89 83.47 90.23" y="271.2" font-size="12.4" fill="#1a7a1a">412.40</text>
<text transform="scale(1.09,1)" x="10.36 19.63 27.84 32.34 39.20 46.47" y="285.1" font-size="12.4" fill="#ff2a2a">MA(25)</text>
<text transform="scale(1.09,1)" x="59.35 66.11 72.87 79.91 83.50 90.26" y="285.1" font-size="12.4" fill="#ff2a2a">413.15</text>
<text transform="scale(1.09,1)" x="10.36 19.63 27.84 32.34 39.20 46.47" y="298.9" font-size="12.4" fill="#2a2aff">MA(75)</text>
<text transform="scale(1.09,1)" x="59.35 66.10 72.86 79.89 83.47 90.23" y="298.9" font-size="12.4" fill="#2a2aff">475.40</text>
<rect x="10" y="314" width="128" height="16" fill="#999" />
<rect x="11" y="315" width="126" height="14" fill="#f0f0f0" />
<text x="11.34" y="325.8" font-size="12" fill="#2222aa" style="font-family:'Liberation Sans','Noto Sans CJK JP',sans-serif">出来高</text>
<text transform="scale(1.09,1)" x="52.44 59.36 66.52 70.24 77.16 84.08 91.24 94.96 101.88 108.80" y="326.2" font-size="12.4" fill="#2222aa">59,433,700</text>
<text x="126.27" y="325.8" font-size="10.5" fill="#2222aa" style="font-family:'Liberation Sans','Noto Sans CJK JP',sans-serif">株</text>
<text x="12.41" y="24.1" font-size="11.9" fill="#000" style="font-family:'Liberation Sans','Noto Sans CJK JP',sans-serif">日付</text>
<text transform="scale(1.09,1)" x="37.73 45.64 53.56 61.47 70.25 75.05 82.96 91.74 96.53 104.45" y="23.9" font-size="14.3" fill="#111">2024/09/27</text>
<text transform="scale(1.09,1)" x="116.89 124.83 133.63 138.44 146.38" y="23.9" font-size="14.3" fill="#111">15:00</text>
<text x="172.56" y="24.1" font-size="12.1" fill="#000" style="font-family:'Liberation Sans','Noto Sans CJK JP',sans-serif">始値</text>
<text transform="scale(1.25,1)" x="160.87 168.39 175.91 183.57 187.25" y="23.9" font-size="14.3" fill="#000" font-weight="bold">423.0</text>
<text x="264.72" y="24.1" font-size="11.9" fill="#000" style="font-family:'Liberation Sans','Noto Sans CJK JP',sans-serif">高値</text>
<text transform="scale(1.25,1)" x="234.15 241.72 249.30 257.00 260.72" y="23.9" font-size="14.3" fill="#ff0000" font-weight="bold">430.0</text>
<text x="356.71" y="24.1" font-size="12.1" fill="#000" style="font-family:'Liberation Sans','Noto Sans CJK JP',sans-serif">安値</text>
<text transform="scale(1.25,1)" x="308.07 315.62 323.17 330.86 334.56" y="23.9" font-size="14.3" fill="#006400" font-weight="bold">412.6</text>
<text x="448.7" y="24.1" font-size="12.1" fill="#000" style="font-family:'Liberation Sans','Noto Sans CJK JP',sans-serif">終値</text>
<text transform="scale(1.25,1)" x="381.59 389.01 396.43 404.02 407.63" y="23.9" font-size="14.3" fill="#000" font-weight="bold">428.1</text>
<clipPath id="pc"><rect x="11" y="30" width="568" height="272"/></clipPath><g clip-path="url(#pc)">
<text transform="scale(1.09,1)" x="15.77 22.87 26.54" y="47.1" font-size="12.3" fill="#111">4/1</text>
<text transform="scale(1.09,1)" x="9.01 15.84 22.68 29.76 33.42" y="59.4" font-size="12.3" fill="#111">616.3</text>
<text transform="scale(1.09,1)" x="108.96 116.50 120.62 127.43" y="63.9" font-size="12.3" fill="#111">5/10</text>
<text transform="scale(1.09,1)" x="105.93 112.62 119.31 126.28 129.82" y="76" font-size="12.3" fill="#111">597.0</text>
<text transform="scale(1.09,1)" x="62.63 69.33 76.03 83.01 86.57" y="143.2" font-size="12.3" fill="#111">536.3</text>
<text transform="scale(1.09,1)" x="65.13 72.92 77.29 84.38" y="154.7" font-size="12.3" fill="#111">4/22</text>
<text transform="scale(1.09,1)" x="122.54 129.24 135.94 142.92 146.47" y="136.4" font-size="12.3" fill="#111">544.3</text>
<text transform="scale(1.09,1)" x="124.83 132.39 136.52 143.35" y="147.7" font-size="12.3" fill="#111">5/16</text>
<text transform="scale(1.09,1)" x="175.61 182.95 186.86" y="85.3" font-size="12.3" fill="#111">6/3</text>
<text transform="scale(1.09,1)" x="168.87 175.65 182.43 189.48 193.10" y="96.9" font-size="12.3" fill="#111">573.3</text>
<text transform="scale(1.09,1)" x="209.51 216.20 222.88 229.85 233.40" y="160.1" font-size="12.3" fill="#111">518.0</text>
<text transform="scale(1.09,1)" x="211.67 219.28 223.46 230.34" y="171.9" font-size="12.3" fill="#111">6/17</text>
<text transform="scale(1.09,1)" x="267.63 274.82 278.58" y="80.6" font-size="12.3" fill="#111">7/4</text>
<text transform="scale(1.09,1)" x="261.07 267.85 274.63 281.67 285.28" y="92.9" font-size="12.3" fill="#111">577.5</text>
<text transform="scale(1.09,1)" x="343.84 350.54 357.24 364.21 367.76" y="286.8" font-size="12.3" fill="#111">377.3</text>
<text transform="scale(1.09,1)" x="349.38 356.77 360.73" y="299" font-size="12.3" fill="#111">8/5</text>
<text transform="scale(1.09,1)" x="378.46 385.92 389.95 396.66" y="192.9" font-size="12.3" fill="#111">8/16</text>
<text transform="scale(1.09,1)" x="375.50 382.25 389.01 396.03 399.63" y="204.9" font-size="12.3" fill="#111">453.8</text>
<text transform="scale(1.09,1)" x="458.52 465.15 471.78 478.70 482.20" y="286.1" font-size="12.3" fill="#111">378.2</text>
<text transform="scale(1.09,1)" x="461.17 468.50 472.40 478.96" y="298.4" font-size="12.3" fill="#111">9/17</text>
<text transform="scale(1.09,1)" x="487.86 495.50 499.72 506.64" y="214.1" font-size="12.3" fill="#111">9/27</text>
<text transform="scale(1.09,1)" x="485.13 492.00 498.87 505.98 509.67" y="226" font-size="12.3" fill="#111">430.0</text>
</g>
<text transform="scale(1.09,1)" x="533.87 540.75 547.64" y="80" font-size="12.3" fill="#111">600</text>
<text transform="scale(1.09,1)" x="534.00 540.84 547.68" y="125" font-size="12.3" fill="#111">550</text>
<text transform="scale(1.09,1)" x="534.00 540.84 547.68" y="170" font-size="12.3" fill="#111">500</text>
<text transform="scale(1.09,1)" x="534.21 540.98 547.74" y="215" font-size="12.3" fill="#111">450</text>
<text transform="scale(1.09,1)" x="534.21 540.98 547.74" y="260" font-size="12.3" fill="#111">400</text>
<text transform="scale(1.09,1)" x="533.69 540.62 547.55 554.48" y="349" font-size="12.3" fill="#111">8000</text>
<text transform="scale(1.09,1)" x="533.94 540.80 547.67 554.54" y="372.8" font-size="12.3" fill="#111">4000</text>
<text transform="scale(1.09,1)" x="558.52" y="394" font-size="10.5" fill="#222">(</text>
<text transform="scale(1.09,1)" x="582.05" y="394" font-size="10.5" fill="#222">)</text>
<text x="612.95" y="394" font-size="10.4" fill="#222" style="font-family:'Liberation Sans','Noto Sans CJK JP',sans-serif">万株</text>
<text transform="scale(1.0,1)" x="21.97" y="311.1" font-size="10.2" fill="#222">4</text>
<text transform="scale(1.0,1)" x="21.97" y="406.6" font-size="10.2" fill="#222">4</text>
<text transform="scale(1.0,1)" x="111.79" y="311.1" font-size="10.2" fill="#222">5</text>
<text transform="scale(1.0,1)" x="111.79" y="406.6" font-size="10.2" fill="#222">5</text>
<text transform="scale(1.0,1)" x="202.68" y="311.1" font-size="10.2" fill="#222">6</text>
<text transform="scale(1.0,1)" x="202.68" y="406.6" font-size="10.2" fill="#222">6</text>
<text transform="scale(1.0,1)" x="288.68" y="311.1" font-size="10.2" fill="#222">7</text>
<text transform="scale(1.0,1)" x="288.68" y="406.6" font-size="10.2" fill="#222">7</text>
<text transform="scale(1.0,1)" x="383.76" y="311.1" font-size="10.2" fill="#222">8</text>
<text transform="scale(1.0,1)" x="383.76" y="406.6" font-size="10.2" fill="#222">8</text>
<text transform="scale(1.0,1)" x="473.72" y="311.1" font-size="10.2" fill="#222">9</text>
<text transform="scale(1.0,1)" x="473.72" y="406.6" font-size="10.2" fill="#222">9</text>
<rect x="11" y="411" width="569" height="37" fill="#fff" />
<polygon fill="#efefef" points="11.0,428.9 12.5,428.9 14.0,430.5 15.5,430.9 16.8,430.5 18.1,429.7 19.3,428.6 20.6,428.9 21.9,427.9 23.1,428.4 24.4,427.5 25.6,428.1 26.9,427.8 28.1,428.4 29.4,427.0 30.6,427.6 31.9,427.3 33.1,427.4 34.4,426.2 35.6,425.6 36.9,426.3 38.2,424.5 39.4,425.9 40.7,425.1 42.0,425.4 43.2,426.3 44.5,427.6 45.7,428.9 47.0,428.6 48.2,429.6 49.5,430.1 50.7,430.1 52.0,430.2 53.2,429.3 54.5,429.3 55.7,430.1 57.1,430.4 58.5,430.0 59.9,429.8 61.3,430.1 61.3,448.0 11.0,448.0"/>
<polyline fill="none" stroke="#989898" stroke-width="1.2" stroke-linejoin="round" stroke-linecap="round" points="11.0,428.9 12.5,428.9 14.0,430.5 15.5,430.9 16.8,430.5 18.1,429.7 19.3,428.6 20.6,428.9 21.9,427.9 23.1,428.4 24.4,427.5 25.6,428.1 26.9,427.8 28.1,428.4 29.4,427.0 30.6,427.6 31.9,427.3 33.1,427.4 34.4,426.2 35.6,425.6 36.9,426.3 38.2,424.5 39.4,425.9 40.7,425.1 42.0,425.4 43.2,426.3 44.5,427.6 45.7,428.9 47.0,428.6 48.2,429.6 49.5,430.1 50.7,430.1 52.0,430.2 53.2,429.3 54.5,429.3 55.7,430.1 57.1,430.4 58.5,430.0 59.9,429.8 61.3,430.1" />
<polygon fill="#efefef" points="63.0,425.0 64.5,424.6 65.8,424.8 67.0,426.3 68.3,426.4 69.5,426.2 70.8,427.1 72.0,427.3 73.3,427.6 74.6,428.1 75.8,427.5 77.1,428.8 78.4,428.1 79.7,427.7 80.9,428.1 82.2,426.7 83.4,427.1 84.7,427.0 85.9,428.9 87.2,429.8 88.4,430.1 89.7,431.6 90.9,431.4 92.2,432.6 93.7,434.7 95.2,436.4 96.8,434.7 98.5,433.1 99.8,433.5 101.0,432.2 102.2,432.1 103.5,431.4 104.8,431.6 106.0,431.4 107.2,431.9 108.5,430.9 109.8,430.6 111.0,430.9 112.2,431.6 113.5,431.4 114.8,431.2 116.0,430.6 117.3,430.3 118.6,430.9 119.8,431.9 121.1,431.3 122.3,432.1 123.6,433.1 124.8,434.0 126.1,432.7 127.3,433.6 128.6,433.9 129.8,434.4 131.1,434.1 132.3,434.0 133.6,433.1 134.9,432.4 136.1,431.7 137.4,432.1 138.7,430.9 139.9,429.9 141.2,429.7 142.4,429.4 143.7,429.6 144.9,429.9 146.2,430.4 147.4,430.1 148.7,430.9 150.0,430.3 151.2,429.8 152.5,429.6 153.7,431.2 155.0,431.6 156.2,432.1 157.5,432.6 158.8,432.9 160.0,432.0 161.3,433.1 162.6,433.4 163.8,433.3 165.1,432.9 166.3,432.1 167.6,431.9 168.8,431.4 170.1,432.3 171.3,432.1 172.7,431.1 174.1,431.1 175.5,431.4 176.8,431.0 178.0,430.4 179.3,430.3 180.6,430.4 181.8,430.3 183.1,430.9 184.3,429.9 185.6,431.4 186.8,430.8 188.1,429.9 189.3,430.0 190.6,430.0 191.8,430.0 193.1,430.1 194.4,431.4 195.6,432.2 196.9,431.9 198.2,432.6 199.4,432.4 200.7,432.9 201.9,433.8 203.2,434.6 204.4,435.5 205.7,434.6 206.9,434.7 208.2,435.9 209.4,435.8 210.7,434.9 211.9,435.5 213.2,435.2 214.5,434.8 215.8,435.2 217.0,434.5 218.3,433.4 219.6,432.9 220.8,433.1 222.1,432.7 223.3,433.7 224.6,433.2 225.8,433.1 227.1,432.8 228.3,432.7 229.6,433.8 230.8,434.2 232.1,434.0 233.3,433.4 234.6,434.5 235.9,435.0 237.1,434.6 238.4,435.7 239.7,435.4 240.9,434.9 242.2,434.9 243.4,435.7 244.6,435.9 245.9,437.4 247.1,437.7 248.3,437.6 249.5,437.7 249.5,448.0 63.0,448.0"/>
<polyline fill="none" stroke="#989898" stroke-width="1.2" stroke-linejoin="round" stroke-linecap="round" points="63.0,425.0 64.5,424.6 65.8,424.8 67.0,426.3 68.3,426.4 69.5,426.2 70.8,427.1 72.0,427.3 73.3,427.6 74.6,428.1 75.8,427.5 77.1,428.8 78.4,428.1 79.7,427.7 80.9,428.1 82.2,426.7 83.4,427.1 84.7,427.0 85.9,428.9 87.2,429.8 88.4,430.1 89.7,431.6 90.9,431.4 92.2,432.6 93.7,434.7 95.2,436.4 96.8,434.7 98.5,433.1 99.8,433.5 101.0,432.2 102.2,432.1 103.5,431.4 104.8,431.6 106.0,431.4 107.2,431.9 108.5,430.9 109.8,430.6 111.0,430.9 112.2,431.6 113.5,431.4 114.8,431.2 116.0,430.6 117.3,430.3 118.6,430.9 119.8,431.9 121.1,431.3 122.3,432.1 123.6,433.1 124.8,434.0 126.1,432.7 127.3,433.6 128.6,433.9 129.8,434.4 131.1,434.1 132.3,434.0 133.6,433.1 134.9,432.4 136.1,431.7 137.4,432.1 138.7,430.9 139.9,429.9 141.2,429.7 142.4,429.4 143.7,429.6 144.9,429.9 146.2,430.4 147.4,430.1 148.7,430.9 150.0,430.3 151.2,429.8 152.5,429.6 153.7,431.2 155.0,431.6 156.2,432.1 157.5,432.6 158.8,432.9 160.0,432.0 161.3,433.1 162.6,433.4 163.8,433.3 165.1,432.9 166.3,432.1 167.6,431.9 168.8,431.4 170.1,432.3 171.3,432.1 172.7,431.1 174.1,431.1 175.5,431.4 176.8,431.0 178.0,430.4 179.3,430.3 180.6,430.4 181.8,430.3 183.1,430.9 184.3,429.9 185.6,431.4 186.8,430.8 188.1,429.9 189.3,430.0 190.6,430.0 191.8,430.0 193.1,430.1 194.4,431.4 195.6,432.2 196.9,431.9 198.2,432.6 199.4,432.4 200.7,432.9 201.9,433.8 203.2,434.6 204.4,435.5 205.7,434.6 206.9,434.7 208.2,435.9 209.4,435.8 210.7,434.9 211.9,435.5 213.2,435.2 214.5,434.8 215.8,435.2 217.0,434.5 218.3,433.4 219.6,432.9 220.8,433.1 222.1,432.7 223.3,433.7 224.6,433.2 225.8,433.1 227.1,432.8 228.3,432.7 229.6,433.8 230.8,434.2 232.1,434.0 233.3,433.4 234.6,434.5 235.9,435.0 237.1,434.6 238.4,435.7 239.7,435.4 240.9,434.9 242.2,434.9 243.4,435.7 244.6,435.9 245.9,437.4 247.1,437.7 248.3,437.6 249.5,437.7" />
<polygon fill="#efefef" points="251.0,437.4 252.2,438.3 253.5,438.2 254.8,437.1 256.0,436.8 257.2,436.8 258.5,436.7 259.8,436.7 261.0,437.2 262.2,437.5 263.5,437.1 264.8,436.0 266.0,435.7 267.2,436.0 268.5,434.4 269.8,435.2 271.0,434.6 272.3,434.0 273.5,432.9 274.8,431.4 276.1,430.5 277.3,431.3 278.6,430.1 279.8,430.1 281.5,429.9 283.1,428.1 284.8,432.1 286.1,433.7 287.3,434.2 288.6,434.6 289.9,433.8 291.1,433.6 292.4,434.8 293.6,433.9 294.9,432.8 296.1,433.6 297.4,432.6 298.7,433.3 299.9,433.2 301.2,433.9 302.4,433.2 303.7,433.0 304.9,434.7 306.2,434.2 307.4,433.9 308.7,433.9 309.9,433.3 311.2,433.7 312.4,433.1 313.7,432.1 315.4,430.1 317.0,428.9 318.8,432.1 320.1,432.1 321.3,431.3 322.6,431.4 323.8,431.4 325.1,431.8 326.3,430.5 327.6,430.3 328.8,430.1 330.2,431.3 331.6,430.8 333.0,431.4 334.2,431.2 335.5,431.1 336.8,430.8 338.0,430.6 339.3,429.7 340.6,428.5 341.8,427.5 343.1,427.6 344.4,427.1 345.6,427.8 346.9,428.4 348.1,428.1 349.4,428.1 350.6,428.7 351.9,428.9 353.1,427.7 354.4,424.8 355.6,423.8 356.9,423.9 358.1,424.6 359.4,425.6 360.6,425.8 361.9,426.1 363.1,426.7 364.4,426.4 365.7,426.7 366.9,427.5 368.2,427.7 369.5,428.1 370.8,428.3 372.0,427.8 373.2,427.8 374.5,427.6 375.8,427.9 377.0,427.0 378.2,426.8 379.5,425.6 380.8,424.4 382.0,424.2 383.2,424.1 384.5,422.6 385.8,422.1 387.1,422.2 388.3,422.9 389.6,423.1 390.8,423.7 392.1,424.5 393.3,426.4 394.6,427.1 395.9,427.5 397.1,426.3 398.4,427.1 399.6,428.0 400.9,427.6 402.1,429.5 403.4,429.4 404.6,428.8 405.9,430.0 407.1,428.8 408.4,428.9 409.6,429.5 410.9,428.8 412.1,427.3 413.4,427.6 414.7,428.1 415.9,428.2 417.2,428.4 418.5,429.4 419.8,429.7 421.0,428.3 422.2,429.1 423.5,428.9 424.8,428.3 426.0,429.2 427.2,430.0 428.5,430.1 429.8,429.2 431.0,430.7 432.2,430.2 433.5,429.6 435.0,429.3 436.6,430.0 438.1,430.9 438.1,448.0 251.0,448.0"/>
<polyline fill="none" stroke="#989898" stroke-width="1.2" stroke-linejoin="round" stroke-linecap="round" points="251.0,437.4 252.2,438.3 253.5,438.2 254.8,437.1 256.0,436.8 257.2,436.8 258.5,436.7 259.8,436.7 261.0,437.2 262.2,437.5 263.5,437.1 264.8,436.0 266.0,435.7 267.2,436.0 268.5,434.4 269.8,435.2 271.0,434.6 272.3,434.0 273.5,432.9 274.8,431.4 276.1,430.5 277.3,431.3 278.6,430.1 279.8,430.1 281.5,429.9 283.1,428.1 284.8,432.1 286.1,433.7 287.3,434.2 288.6,434.6 289.9,433.8 291.1,433.6 292.4,434.8 293.6,433.9 294.9,432.8 296.1,433.6 297.4,432.6 298.7,433.3 299.9,433.2 301.2,433.9 302.4,433.2 303.7,433.0 304.9,434.7 306.2,434.2 307.4,433.9 308.7,433.9 309.9,433.3 311.2,433.7 312.4,433.1 313.7,432.1 315.4,430.1 317.0,428.9 318.8,432.1 320.1,432.1 321.3,431.3 322.6,431.4 323.8,431.4 325.1,431.8 326.3,430.5 327.6,430.3 328.8,430.1 330.2,431.3 331.6,430.8 333.0,431.4 334.2,431.2 335.5,431.1 336.8,430.8 338.0,430.6 339.3,429.7 340.6,428.5 341.8,427.5 343.1,427.6 344.4,427.1 345.6,427.8 346.9,428.4 348.1,428.1 349.4,428.1 350.6,428.7 351.9,428.9 353.1,427.7 354.4,424.8 355.6,423.8 356.9,423.9 358.1,424.6 359.4,425.6 360.6,425.8 361.9,426.1 363.1,426.7 364.4,426.4 365.7,426.7 366.9,427.5 368.2,427.7 369.5,428.1 370.8,428.3 372.0,427.8 373.2,427.8 374.5,427.6 375.8,427.9 377.0,427.0 378.2,426.8 379.5,425.6 380.8,424.4 382.0,424.2 383.2,424.1 384.5,422.6 385.8,422.1 387.1,422.2 388.3,422.9 389.6,423.1 390.8,423.7 392.1,424.5 393.3,426.4 394.6,427.1 395.9,427.5 397.1,426.3 398.4,427.1 399.6,428.0 400.9,427.6 402.1,429.5 403.4,429.4 404.6,428.8 405.9,430.0 407.1,428.8 408.4,428.9 409.6,429.5 410.9,428.8 412.1,427.3 413.4,427.6 414.7,428.1 415.9,428.2 417.2,428.4 418.5,429.4 419.8,429.7 421.0,428.3 422.2,429.1 423.5,428.9 424.8,428.3 426.0,429.2 427.2,430.0 428.5,430.1 429.8,429.2 431.0,430.7 432.2,430.2 433.5,429.6 435.0,429.3 436.6,430.0 438.1,430.9" />
<polygon fill="#efefef" points="440.0,429.8 441.2,430.3 442.4,429.3 443.7,429.0 444.9,429.5 446.1,429.6 447.4,430.0 448.6,428.8 449.9,428.4 451.1,428.9 452.4,428.8 453.6,428.9 454.9,427.6 456.1,428.1 457.4,427.9 458.7,427.1 459.9,430.1 461.1,430.7 462.4,430.0 463.6,430.1 464.9,429.4 466.2,429.6 467.4,427.8 468.7,428.1 470.0,428.7 471.2,429.1 472.5,430.1 473.7,430.5 475.0,428.9 476.2,428.9 477.6,428.9 479.1,428.3 480.6,428.0 482.0,428.7 482.0,448.0 440.0,448.0"/>
<polyline fill="none" stroke="#989898" stroke-width="1.2" stroke-linejoin="round" stroke-linecap="round" points="440.0,429.8 441.2,430.3 442.4,429.3 443.7,429.0 444.9,429.5 446.1,429.6 447.4,430.0 448.6,428.8 449.9,428.4 451.1,428.9 452.4,428.8 453.6,428.9 454.9,427.6 456.1,428.1 457.4,427.9 458.7,427.1 459.9,430.1 461.1,430.7 462.4,430.0 463.6,430.1 464.9,429.4 466.2,429.6 467.4,427.8 468.7,428.1 470.0,428.7 471.2,429.1 472.5,430.1 473.7,430.5 475.0,428.9 476.2,428.9 477.6,428.9 479.1,428.3 480.6,428.0 482.0,428.7" />
<polygon fill="#bcc6f6" points="482.0,428.7 483.3,428.1 484.6,428.3 485.9,428.4 487.3,428.3 488.6,428.8 489.9,428.5 491.2,429.2 492.6,429.4 493.9,430.5 495.1,429.8 496.3,430.0 497.5,429.6 498.7,430.3 499.9,429.9 501.1,429.5 502.3,429.9 503.5,430.4 504.7,429.4 505.9,429.9 507.4,430.1 508.9,430.4 510.3,431.1 511.8,430.9 513.0,430.5 514.3,430.3 515.5,430.3 516.8,429.3 518.3,430.5 519.8,430.9 521.1,431.5 522.5,431.7 523.8,432.3 525.1,431.3 526.5,430.9 527.8,430.9 529.3,430.9 530.8,430.1 532.2,429.7 533.7,429.9 534.9,430.4 536.1,430.6 537.3,430.5 538.5,430.1 539.7,430.5 541.2,431.3 542.7,432.5 544.2,433.5 545.7,435.3 547.0,435.9 548.4,437.6 549.7,437.9 551.0,437.6 552.4,436.9 553.7,436.9 555.0,436.5 556.4,436.5 557.7,436.5 559.0,436.5 560.3,436.7 561.6,436.9 562.9,436.7 564.3,437.3 565.6,437.5 566.9,437.6 568.3,437.7 569.6,438.5 571.1,438.7 572.6,439.9 573.9,439.7 575.2,439.7 576.4,440.2 577.7,440.2 579.0,440.2 579.0,448.0 482.0,448.0"/>
<polyline fill="none" stroke="#6a6ac0" stroke-width="1.2" stroke-linejoin="round" stroke-linecap="round" points="482.0,428.7 483.3,428.1 484.6,428.3 485.9,428.4 487.3,428.3 488.6,428.8 489.9,428.5 491.2,429.2 492.6,429.4 493.9,430.5 495.1,429.8 496.3,430.0 497.5,429.6 498.7,430.3 499.9,429.9 501.1,429.5 502.3,429.9 503.5,430.4 504.7,429.4 505.9,429.9 507.4,430.1 508.9,430.4 510.3,431.1 511.8,430.9 513.0,430.5 514.3,430.3 515.5,430.3 516.8,429.3 518.3,430.5 519.8,430.9 521.1,431.5 522.5,431.7 523.8,432.3 525.1,431.3 526.5,430.9 527.8,430.9 529.3,430.9 530.8,430.1 532.2,429.7 533.7,429.9 534.9,430.4 536.1,430.6 537.3,430.5 538.5,430.1 539.7,430.5 541.2,431.3 542.7,432.5 544.2,433.5 545.7,435.3 547.0,435.9 548.4,437.6 549.7,437.9 551.0,437.6 552.4,436.9 553.7,436.9 555.0,436.5 556.4,436.5 557.7,436.5 559.0,436.5 560.3,436.7 561.6,436.9 562.9,436.7 564.3,437.3 565.6,437.5 566.9,437.6 568.3,437.7 569.6,438.5 571.1,438.7 572.6,439.9 573.9,439.7 575.2,439.7 576.4,440.2 577.7,440.2 579.0,440.2" />
<text transform="scale(1.09,1)" x="57.09 63.08" y="444" font-size="10.4" fill="#222">22</text>
<text transform="scale(1.09,1)" x="229.20 234.81" y="444" font-size="10.4" fill="#222">23</text>
<text transform="scale(1.09,1)" x="403.42 409.04" y="444" font-size="10.4" fill="#222">24</text>
<rect x="482" y="411" width="1" height="37" fill="#1ea0e0" />
<rect x="579" y="411" width="1" height="37" fill="#1ea0e0" />
<rect x="490" y="449" width="1" height="10" fill="#111" />
<rect x="572" y="449" width="1" height="10" fill="#111" />
<rect x="491" y="449" width="81" height="10" rx="1.5" fill="url(#thumb)"/>
<rect x="573" y="449" width="6" height="10" fill="url(#trk)" />
<rect x="579" y="449" width="1" height="10" fill="#111" />
<rect x="580" y="449" width="60" height="10" fill="#eeeeee" />
<rect x="476.5" y="415.5" width="13" height="29" fill="url(#hnd)" stroke="#1a1a1a" stroke-width="1"/>
<polygon fill="#000" points="484.6,426.2 484.6,433.8 480.4,430"/>
<rect x="572.5" y="415.5" width="13" height="29" fill="url(#hnd)" stroke="#1a1a1a" stroke-width="1"/>
<polygon fill="#000" points="577.4,426.2 577.4,433.8 581.6,430"/></svg></body></html>
